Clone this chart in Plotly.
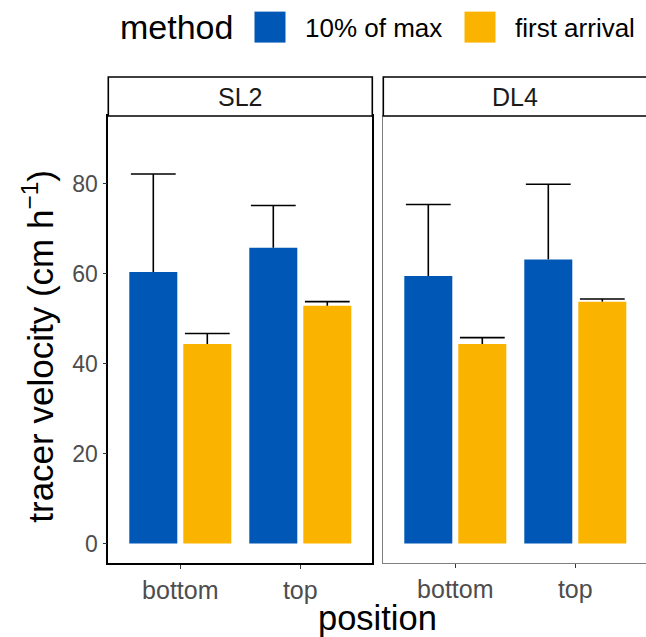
import plotly.graph_objects as go

# ---- data ----
sites = ["SL2", "DL4"]
positions = ["bottom", "top"]
methods = ["10% of max", "first arrival"]
colors = ["#0057B6", "#FAB400"]

# mean values per site -> method -> [bottom, top]
mean_vals = {
    "SL2": {"10% of max": [60.4, 65.8], "first arrival": [44.4, 52.9]},
    "DL4": {"10% of max": [59.5, 63.2], "first arrival": [44.4, 53.8]},
}
# upper error (sd) per site -> method -> [bottom, top]
err_vals = {
    "SL2": {"10% of max": [21.8, 9.4], "first arrival": [2.3, 0.9]},
    "DL4": {"10% of max": [15.9, 16.7], "first arrival": [1.4, 0.6]},
}
y_ticks = [0, 20, 40, 60, 80]

W, H = 646, 637
ML, MR, MT, MB = 108, 0, 116, 73.5
PW = W - ML - MR
PH = H - MT - MB


def px_x(p):
    return (p - ML) / PW


def px_y(p):
    return (H - MB - p) / PH


fig = go.Figure()
doms = [[px_x(108.3), px_x(372.3)], [px_x(383.3), 1.0]]

for i, site in enumerate(sites):
    xa = "x" if i == 0 else "x2"
    ya = "y" if i == 0 else "y2"
    for m, c in zip(methods, colors):
        means = mean_vals[site][m]
        errs = err_vals[site][m]
        fig.add_trace(go.Bar(
            x=positions, y=means, name=m,
            marker=dict(color=c, line=dict(width=0)),
            offsetgroup=m,
            xaxis=xa, yaxis=ya, showlegend=False,
        ))
        # error bar: vertical stem from bar top + cap at the upper end only
        tops = [a + b for a, b in zip(means, errs)]
        fig.add_trace(go.Scatter(
            x=positions, y=tops, mode="markers", name=m,
            offsetgroup=m,
            marker=dict(symbol="line-ew", size=32, color="black",
                        line=dict(color="black", width=1.6)),
            error_y=dict(type="data", symmetric=False,
                         array=[0] * len(positions), arrayminus=errs,
                         color="black", thickness=1.6, width=0),
            xaxis=xa, yaxis=ya, showlegend=False, hoverinfo="skip",
        ))

axis_common = dict(ticks="outside", ticklen=4, tickcolor="#333333",
                   tickwidth=1.2, showgrid=False, zeroline=False,
                   showline=True, mirror=True)
# panel 2 spans the same width as panel 1 but is cut at the right edge
r2 = -0.6 + 2.2 * (646 - 383.3) / (372.3 - 108.3)
yrange = [-4.35, 95.1]

fig.update_layout(
    width=W, height=H,
    margin=dict(l=ML, r=MR, t=MT, b=MB),
    paper_bgcolor="white", plot_bgcolor="white",
    barmode="group", bargap=0.1, bargroupgap=0.111,
    scattermode="group", scattergap=0.1,
    font=dict(family="Liberation Sans, Arial, sans-serif", color="black"),
    xaxis=dict(domain=doms[0], range=[-0.6, 1.6], linecolor="black",
               linewidth=1.6,
               tickfont=dict(size=25, color="#4D4D4D"), **axis_common),
    xaxis2=dict(domain=doms[1], range=[-0.6, r2], linecolor="#7F7F7F",
                linewidth=1.2, anchor="y2",
                tickfont=dict(size=25, color="#4D4D4D"), **axis_common),
    yaxis=dict(range=yrange, tickvals=y_ticks, linecolor="black",
               linewidth=1.6,
               tickfont=dict(size=23, color="#4D4D4D"), **axis_common),
    yaxis2=dict(range=yrange, anchor="x2", matches="y", showticklabels=False,
                ticks="", showgrid=False, zeroline=False, showline=True,
                mirror=True, linecolor="#7F7F7F", linewidth=1.2),
)

shapes = []
annotations = []
# strips
strip_right = [372.3, 647.5]
for i, site in enumerate(sites):
    x0 = doms[i][0]
    x1 = px_x(strip_right[i])
    shapes.append(dict(type="rect", xref="paper", yref="paper",
                       x0=x0, x1=x1, y0=1.0, y1=px_y(77),
                       line=dict(color="black", width=1.6),
                       fillcolor="white"))
    annotations.append(dict(text=site, xref="paper", yref="paper",
                            x=(x0 + x1) / 2, y=(1.0 + px_y(77)) / 2,
                            showarrow=False, xanchor="center", yanchor="middle",
                            font=dict(size=25, color="#1A1A1A")))

# legend (manual)
annotations.append(dict(text="method", xref="paper", yref="paper",
                        x=px_x(118), y=px_y(27), showarrow=False,
                        xanchor="left", yanchor="middle",
                        font=dict(size=34, color="black")))
key_x = [254.5, 464.5]
lab_x = [303, 513]
for m, c, kx, lx in zip(methods, colors, key_x, lab_x):
    shapes.append(dict(type="rect", xref="paper", yref="paper",
                       x0=px_x(kx), x1=px_x(kx + 31),
                       y0=px_y(42.5), y1=px_y(11.5),
                       line=dict(width=0), fillcolor=c))
    annotations.append(dict(text=m, xref="paper", yref="paper",
                            x=px_x(lx), y=px_y(27.5), showarrow=False,
                            xanchor="left", yanchor="middle",
                            font=dict(size=26, color="black")))

# axis titles
annotations.append(dict(text="position", xref="paper", yref="paper",
                        x=px_x(377.5), y=px_y(619), showarrow=False,
                        xanchor="center", yanchor="middle",
                        font=dict(size=34.5, color="black")))
annotations.append(dict(text="tracer velocity (cm h<sup>\u22121</sup>)",
                        xref="paper", yref="paper",
                        x=px_x(38), y=px_y(347), showarrow=False,
                        textangle=-90, xanchor="center", yanchor="middle",
                        font=dict(size=35, color="black")))

fig.update_layout(shapes=shapes, annotations=annotations)
fig.write_html("out.html", config={"displayModeBar": False},
               post_script="document.body.style.margin='0';"
                           "document.body.style.overflow='hidden';")
